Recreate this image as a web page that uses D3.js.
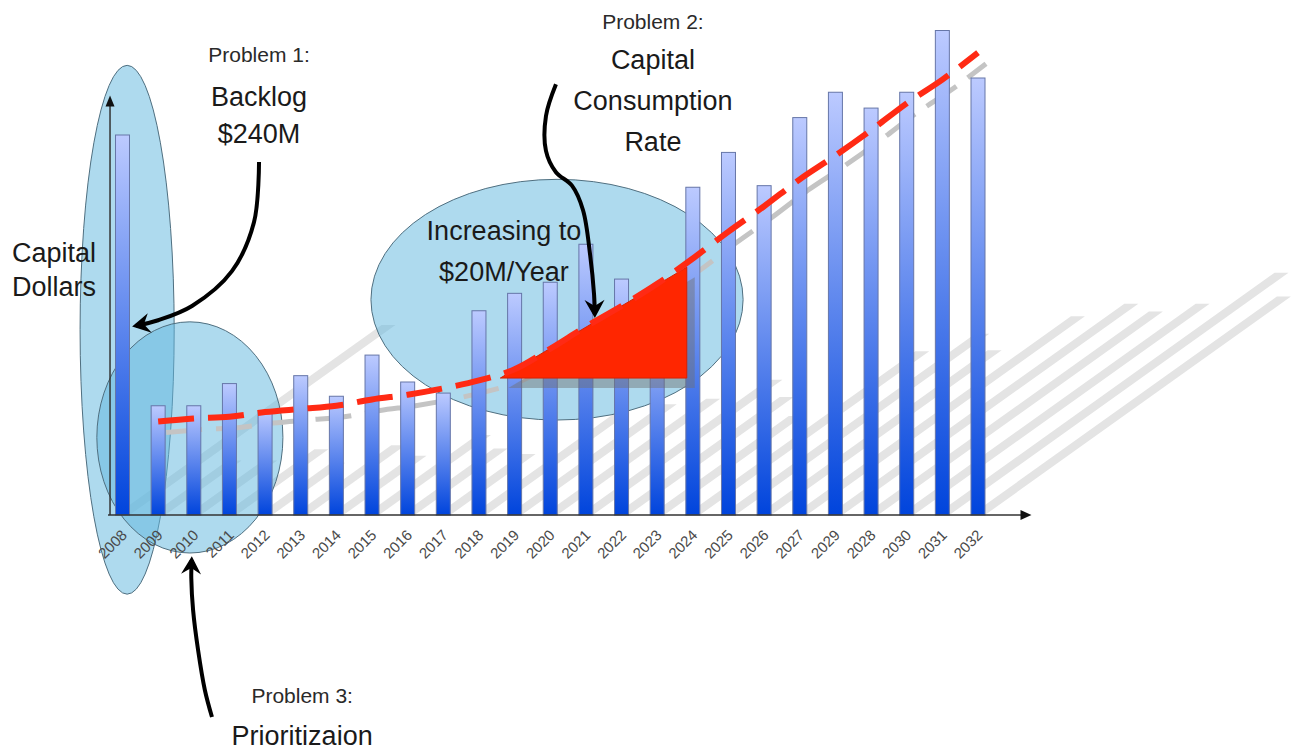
<!DOCTYPE html>
<html>
<head>
<meta charset="utf-8">
<script src="https://cdn.jsdelivr.net/npm/d3@7"></script>
<style>
    html, body { margin: 0; padding: 0; background: #fff; }
    svg { display: block; font-family: "Liberation Sans", Arial, sans-serif; }
</style>
</head>
<body>
<div id="chart"></div>
<script>
// Capital dollars per year (bars) with a dashed trend line and three
// "problem" call-outs drawn on top. Bars cast long diagonal shadows.

// Year labels, in the order they appear on the axis (2029 before 2028 as in the source)
const YEARS = [
    "2008", "2009", "2010", "2011", "2012", "2013", "2014", "2015", "2016",
    "2017", "2018", "2019", "2020", "2021", "2022", "2023", "2024", "2025",
    "2026", "2027", "2029", "2028", "2030", "2031", "2032",
];

// Capital dollars, $M (2008 = backlog of $240M)
const CAPITAL = [
    240, 69, 69, 83, 66, 88, 75, 101, 84, 77, 129, 140, 147,
    171, 149, 125, 207, 229, 208, 251, 267, 257, 267, 306, 276,
];

// Dashed trend line, starts at 2009
const TREND_YEARS = YEARS.slice(1);
const TREND = [
    59, 61, 62, 65, 67, 69, 73, 76, 80, 85, 92, 105,
    119, 132, 146, 162, 179, 195, 212, 227, 243, 260, 275, 292,
];

// Annotation geometry in chart units: i = year index, v = $M
const ELLIPSES = [
    { i: 0.13, v: 117, ri: 1.32, rv: 167 },
    { i: 1.89, v: 49, ri: 2.61, rv: 73 },
    { i: 12.19, v: 136, ri: 5.22, rv: 76 },
];
const TRIANGLE = [[10.6, 86.5], [15.83, 156.5], [15.83, 86.5]];
const ARROWS = [
    [[3.83, 223], [3.69, 185], [3.07, 154], [1.95, 132], [1.0, 123], [0.38, 119.5]],
    [[12.16, 272], [11.88, 252], [11.88, 230], [12.16, 216.5], [12.61, 208], [12.92, 192.5], [13.12, 164], [13.23, 139], [13.25, 127]],
    [[2.51, -127.6], [2.31, -110.5], [2.12, -85.3], [1.98, -60], [1.93, -40], [1.94, -28.5]],
];
const LABELS = [
    { i: 3.83, v: 286, size: 21, text: "Problem 1:" },
    { i: 3.83, v: 258.5, size: 27, text: "Backlog" },
    { i: 3.83, v: 235, size: 27, text: "$240M" },
    { i: -3.1, v: 159.5, size: 27, text: "Capital", anchor: "start" },
    { i: -3.1, v: 138.3, size: 27, text: "Dollars", anchor: "start" },
    { i: 14.88, v: 307, size: 21, text: "Problem 2:" },
    { i: 14.88, v: 281.4, size: 27, text: "Capital" },
    { i: 14.88, v: 255.5, size: 27, text: "Consumption" },
    { i: 14.88, v: 230.2, size: 27, text: "Rate" },
    { i: 10.7, v: 174, size: 27, text: "Increasing to" },
    { i: 10.7, v: 148, size: 27, text: "$20M/Year" },
    { i: 5.04, v: -119, size: 21, text: "Problem 3:" },
    { i: 5.04, v: -145.5, size: 27, text: "Prioritizaion" },
];

const WIDTH = 1291;
const HEIGHT = 752;
const BAR_W = 14;
const SHADOW_DX = 0.7;   // bar shadow run per px of bar height
const SHADOW_DY = 0.5;   // bar shadow rise per px of bar height

const x = d3.scaleLinear().domain([0, YEARS.length - 1]).range([122.5, 978]);
const y = d3.scaleLinear().domain([0, 240]).range([515, 135]);
const idx = (yr) => YEARS.indexOf(yr);

const svg = d3.select("#chart")
    .append("svg")
    .attr("width", WIDTH)
    .attr("height", HEIGHT);

const defs = svg.append("defs");
const grad = defs.append("linearGradient")
    .attr("id", "barGrad")
    .attr("x1", 0).attr("y1", 0).attr("x2", 0).attr("y2", 1);
grad.append("stop").attr("offset", "0%").attr("stop-color", "#bccaff");
grad.append("stop").attr("offset", "100%").attr("stop-color", "#0044dc");

defs.append("marker")
    .attr("id", "arrowHead")
    .attr("viewBox", "-20 -12 22 24")
    .attr("refX", -4).attr("refY", 0)
    .attr("markerWidth", 22).attr("markerHeight", 24)
    .attr("markerUnits", "userSpaceOnUse")
    .attr("orient", "auto")
    .append("path")
    .attr("d", "M0,0 L-18,-10 L-12,0 L-18,10 Z")
    .attr("fill", "#000");

const base = y(0);

// Long diagonal bar shadows
svg.append("g")
    .selectAll("path")
    .data(CAPITAL)
    .join("path")
    .attr("d", (v, i) => {
        const x0 = x(i) - BAR_W / 2;
        const x1 = x0 + BAR_W;
        const h = base - y(v);
        return `M${x0},${base}L${x1},${base}L${x1 + SHADOW_DX * h},${base - SHADOW_DY * h}L${x0 + SHADOW_DX * h},${base - SHADOW_DY * h}Z`;
    })
    .attr("fill", "#e4e4e4");

// Call-out ellipses
svg.append("g")
    .selectAll("ellipse")
    .data(ELLIPSES)
    .join("ellipse")
    .attr("cx", (d) => x(d.i))
    .attr("cy", (d) => y(d.v))
    .attr("rx", (d) => x(d.ri) - x(0))
    .attr("ry", (d) => base - y(d.rv))
    .attr("fill", "rgba(100,185,222,0.52)")
    .attr("stroke", "#4f6f80")
    .attr("stroke-width", 1);

// Trend line
const trendLine = d3.line()
    .x((d) => x(idx(d.year)))
    .y((d) => y(d.value))
    .curve(d3.curveMonotoneX);
const trendData = TREND_YEARS.map((year, k) => ({ year, value: TREND[k] }));

// grey drop shadow of the trend line, behind the bars
svg.append("path")
    .datum(trendData)
    .attr("d", trendLine)
    .attr("transform", "translate(8,11)")
    .attr("fill", "none")
    .attr("stroke", "#c4c4c4")
    .attr("stroke-width", 5)
    .attr("stroke-dasharray", "36,14");

// Bars
svg.append("g")
    .selectAll("rect")
    .data(CAPITAL)
    .join("rect")
    .attr("x", (v, i) => x(i) - BAR_W / 2)
    .attr("y", (v) => y(v))
    .attr("width", BAR_W)
    .attr("height", (v) => base - y(v))
    .attr("fill", "url(#barGrad)")
    .attr("stroke", "#6676a8")
    .attr("stroke-width", 1);

// Axes
const axisX0 = x(-0.35);
const axisEnd = x(25.5);
const axisTop = y(265);

const xAxis = svg.append("g")
    .attr("transform", `translate(0,${base})`)
    .call(
        d3.axisBottom(x)
            .tickValues(d3.range(YEARS.length))
            .tickFormat((i) => YEARS[i])
            .tickSize(0),
    );
xAxis.select(".domain").remove();
xAxis.selectAll(".tick text")
    .attr("x", 0).attr("y", 0).attr("dy", null)
    .attr("transform", "translate(5,21) rotate(-45)")
    .style("text-anchor", "end")
    .style("font-size", "15px")
    .style("font-family", "'Liberation Sans', Arial, sans-serif")
    .attr("fill", "#4a4a4a");

svg.append("line")
    .attr("x1", axisX0 - 2).attr("x2", axisEnd - 8)
    .attr("y1", base).attr("y2", base)
    .attr("stroke", "#333").attr("stroke-width", 1.5);
svg.append("path")
    .attr("d", `M${axisEnd},${base}L${axisEnd - 11},${base - 5}L${axisEnd - 11},${base + 5}Z`)
    .attr("fill", "#111");

svg.append("line")
    .attr("x1", axisX0).attr("x2", axisX0)
    .attr("y1", base).attr("y2", axisTop + 8)
    .attr("stroke", "#333").attr("stroke-width", 1.5);
svg.append("path")
    .attr("d", `M${axisX0},${axisTop}L${axisX0 - 4.5},${axisTop + 11}L${axisX0 + 4.5},${axisTop + 11}Z`)
    .attr("fill", "#111");

// Red triangle (consumption-rate wedge) with its grey drop shadow
const triPath = "M" + TRIANGLE.map(([i, v]) => `${x(i)},${y(v)}`).join("L") + "Z";
svg.append("path")
    .attr("d", triPath)
    .attr("transform", "translate(8,10)")
    .attr("fill", "rgba(110,110,110,0.45)");
svg.append("path")
    .attr("d", triPath)
    .attr("fill", "#ff2600")
    .attr("stroke", "#d82000")
    .attr("stroke-width", 1);

// red dashed trend line on top
svg.append("path")
    .datum(trendData)
    .attr("d", trendLine)
    .attr("fill", "none")
    .attr("stroke", "#ff2a14")
    .attr("stroke-width", 6)
    .attr("stroke-dasharray", "36,14");

// Curved call-out arrows
const arrowLine = d3.line()
    .x((d) => x(d[0]))
    .y((d) => y(d[1]))
    .curve(d3.curveCatmullRom.alpha(0.5));

svg.append("g")
    .selectAll("path")
    .data(ARROWS)
    .join("path")
    .attr("d", arrowLine)
    .attr("fill", "none")
    .attr("stroke", "#000")
    .attr("stroke-width", 4)
    .attr("marker-end", "url(#arrowHead)");

// Call-out text
svg.append("g")
    .selectAll("text")
    .data(LABELS)
    .join("text")
    .attr("x", (d) => x(d.i))
    .attr("y", (d) => y(d.v))
    .attr("text-anchor", (d) => d.anchor || "middle")
    .attr("font-size", (d) => d.size)
    .attr("fill", (d) => (d.size < 24 ? "#2a2a2a" : "#1a1a1a"))
    .text((d) => d.text);
</script>
</body>
</html>
